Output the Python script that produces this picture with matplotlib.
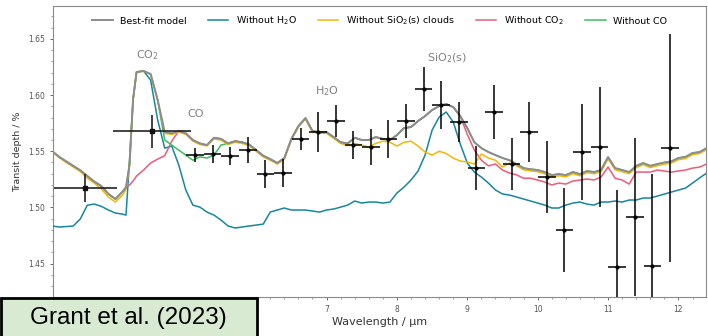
import matplotlib.pyplot as plt
from matplotlib.patches import Rectangle
from matplotlib.ticker import MultipleLocator, FuncFormatter

# model wavelength grid (um)
wl = [3.1, 3.2, 3.3, 3.4, 3.5, 3.6, 3.7, 3.8, 3.9, 4.0,
      4.1, 4.15, 4.2, 4.25, 4.3, 4.4, 4.5, 4.6, 4.7, 4.8,
      4.9, 5.0, 5.1, 5.2, 5.3, 5.4, 5.5, 5.6, 5.7, 5.8,
      5.9, 6.0, 6.1, 6.2, 6.3, 6.4, 6.5, 6.6, 6.7, 6.8,
      6.9, 7.0, 7.1, 7.2, 7.3, 7.4, 7.5, 7.6, 7.7, 7.8,
      7.9, 8.0, 8.1, 8.2, 8.3, 8.4, 8.5, 8.6, 8.7, 8.8,
      8.9, 9.0, 9.1, 9.2, 9.3, 9.4, 9.5, 9.6, 9.7, 9.8,
      9.9, 10.0, 10.1, 10.2, 10.3, 10.4, 10.5, 10.6, 10.7, 10.8,
      10.9, 11.0, 11.1, 11.2, 11.3, 11.4, 11.5, 11.6, 11.7, 11.8,
      11.9, 12.0, 12.1, 12.2, 12.3, 12.4]

best_fit = [1.550, 1.545, 1.541, 1.537, 1.533, 1.528, 1.523, 1.519, 1.512, 1.5075,
            1.514, 1.518, 1.538, 1.596, 1.6205, 1.6214, 1.6187, 1.5956, 1.567, 1.566,
            1.568, 1.566, 1.560, 1.557, 1.5555, 1.562, 1.561, 1.557, 1.559, 1.558,
            1.556, 1.551, 1.546, 1.543, 1.5395, 1.544, 1.561, 1.5724, 1.5795, 1.568,
            1.567, 1.567, 1.5626, 1.558, 1.557, 1.562, 1.560, 1.560, 1.5626, 1.561,
            1.560, 1.5644, 1.5706, 1.5715, 1.5769, 1.5813, 1.5867, 1.5902, 1.592, 1.5893,
            1.5813, 1.5706, 1.558, 1.5528, 1.5493, 1.5466, 1.544, 1.542, 1.5386, 1.535,
            1.534, 1.5333, 1.5315, 1.5288, 1.5297, 1.5288, 1.5315, 1.5297, 1.5324, 1.5315,
            1.5333, 1.5448, 1.535, 1.5333, 1.5315, 1.537, 1.5395, 1.537, 1.5386, 1.540,
            1.541, 1.544, 1.545, 1.5484, 1.5493, 1.5528]

no_h2o = [1.4835, 1.4826, 1.483, 1.4835, 1.4897, 1.502, 1.503, 1.501, 1.4977, 1.495,
          1.4941, 1.4932, 1.542, 1.596, 1.6205, 1.6214, 1.6133, 1.5778, 1.5528, 1.5546,
          1.5377, 1.5155, 1.5021, 1.5003, 1.4959, 1.4932, 1.4888, 1.4835, 1.4817, 1.4826,
          1.4835, 1.4843, 1.4852, 1.4959, 1.4977, 1.4995, 1.4977, 1.4977, 1.4977, 1.4968,
          1.4959, 1.4977, 1.4986, 1.5003, 1.5021, 1.5057, 1.5039, 1.5048, 1.5048, 1.5039,
          1.5048, 1.5128, 1.5181, 1.5244, 1.5324, 1.5466, 1.5689, 1.5804, 1.5849, 1.576,
          1.5564, 1.5395, 1.5315, 1.527, 1.5217, 1.5155, 1.512, 1.511, 1.5093, 1.5075,
          1.5057, 1.5039, 1.5021, 1.4995, 1.4995, 1.5021, 1.5039, 1.5048, 1.503, 1.5021,
          1.5048, 1.5048, 1.5057, 1.5048, 1.5066, 1.5066, 1.5084, 1.5084, 1.5101, 1.5119,
          1.5137, 1.5155, 1.5172, 1.5217, 1.5262, 1.5306]

no_sio2 = [1.5495, 1.5445, 1.540, 1.536, 1.532, 1.526, 1.5217, 1.5164, 1.5093, 1.5048,
           1.511, 1.516, 1.537, 1.5956, 1.6205, 1.6214, 1.6187, 1.5956, 1.566, 1.565,
           1.567, 1.565, 1.559, 1.556, 1.5547, 1.561, 1.560, 1.556, 1.558, 1.557,
           1.555, 1.550, 1.545, 1.542, 1.5387, 1.543, 1.560, 1.5716, 1.5787, 1.567,
           1.566, 1.566, 1.5615, 1.557, 1.555, 1.557, 1.5555, 1.5537, 1.557, 1.559,
           1.558, 1.5546, 1.558, 1.559, 1.5546, 1.5493, 1.5466, 1.550, 1.548, 1.5439,
           1.5413, 1.5404, 1.5386, 1.5475, 1.544, 1.542, 1.536, 1.5395, 1.5371, 1.5335,
           1.5325, 1.5318, 1.530, 1.5273, 1.5282, 1.5273, 1.530, 1.5282, 1.5309, 1.530,
           1.5318, 1.5433, 1.5335, 1.5318, 1.530, 1.5355, 1.538, 1.5355, 1.5371, 1.5385,
           1.5395, 1.5425, 1.5435, 1.547, 1.548, 1.5513]

no_co2 = [1.550, 1.545, 1.541, 1.537, 1.533, 1.528, 1.523, 1.519, 1.512, 1.5075,
          1.514, 1.518, 1.520, 1.5235, 1.528, 1.5333, 1.5395, 1.543, 1.546, 1.559,
          1.568, 1.566, 1.560, 1.557, 1.5555, 1.562, 1.561, 1.557, 1.559, 1.558,
          1.556, 1.551, 1.546, 1.543, 1.5395, 1.544, 1.561, 1.5724, 1.5795, 1.568,
          1.567, 1.567, 1.5626, 1.558, 1.557, 1.562, 1.560, 1.560, 1.5626, 1.561,
          1.560, 1.5644, 1.5706, 1.5715, 1.5769, 1.5813, 1.5867, 1.5902, 1.592, 1.5893,
          1.5813, 1.565, 1.551, 1.542, 1.537, 1.5386, 1.5333, 1.5306, 1.529, 1.526,
          1.526, 1.5244, 1.5226, 1.520, 1.5217, 1.5208, 1.5235, 1.5244, 1.5253, 1.5244,
          1.527, 1.536, 1.526, 1.5244, 1.5208, 1.5315, 1.5315, 1.5315, 1.5333, 1.5324,
          1.5315, 1.5324, 1.5333, 1.535, 1.5359, 1.5386]

no_co = [1.550, 1.545, 1.541, 1.537, 1.533, 1.528, 1.523, 1.519, 1.512, 1.5075,
         1.514, 1.518, 1.538, 1.596, 1.6205, 1.6214, 1.6187, 1.5956, 1.560, 1.5555,
         1.551, 1.5466, 1.542, 1.545, 1.544, 1.5466, 1.5555, 1.557, 1.559, 1.558,
         1.556, 1.551, 1.546, 1.543, 1.5395, 1.544, 1.561, 1.5724, 1.5795, 1.568,
         1.567, 1.567, 1.5626, 1.558, 1.557, 1.562, 1.560, 1.560, 1.5626, 1.561,
         1.560, 1.5644, 1.5706, 1.5715, 1.5769, 1.5813, 1.5867, 1.5902, 1.592, 1.5893,
         1.5813, 1.5706, 1.558, 1.5528, 1.5493, 1.5466, 1.544, 1.542, 1.5386, 1.535,
         1.534, 1.5333, 1.5315, 1.5288, 1.5297, 1.5288, 1.5315, 1.5297, 1.5324, 1.5315,
         1.5333, 1.5448, 1.535, 1.5333, 1.5315, 1.537, 1.5395, 1.537, 1.5386, 1.540,
         1.541, 1.544, 1.545, 1.5484, 1.5493, 1.5528]

# observed spectrum
nirspec_wl = [3.57, 4.52]
nirspec_xerr = [0.45, 0.56]
nirspec_depth = [1.5175, 1.568]
nirspec_err = [0.0125, 0.0147]

miri_wl = [5.13, 5.38, 5.63, 5.88, 6.13, 6.38, 6.63, 6.88, 7.13, 7.38,
           7.63, 7.88, 8.13, 8.38, 8.63, 8.88, 9.13, 9.38, 9.63, 9.88,
           10.13, 10.38, 10.63, 10.88, 11.13, 11.38, 11.63, 11.88]
miri_depth = [1.5466, 1.5475, 1.5457, 1.5511, 1.5297, 1.5303, 1.5609, 1.5671, 1.5769, 1.5555,
              1.5537, 1.5609, 1.5771, 1.6053, 1.5915, 1.576, 1.5355, 1.5849, 1.5386, 1.5675,
              1.527, 1.4799, 1.5496, 1.554, 1.4472, 1.4912, 1.4481, 1.5526]
miri_err = [0.0062, 0.008, 0.008, 0.0116, 0.0125, 0.0125, 0.0098, 0.0178, 0.0142, 0.0125,
            0.016, 0.0169, 0.0151, 0.0196, 0.0214, 0.0178, 0.0196, 0.024, 0.0231, 0.0267,
            0.032, 0.0374, 0.0427, 0.0534, 0.0685, 0.0703, 0.0819, 0.1014]
miri_xerr = 0.125

labels = ["CO$_2$", "CO", "H$_2$O", "SiO$_2$(s)"]
label_x = [4.45, 5.14, 7.0, 8.71]
label_y = [1.6356, 1.583, 1.6036, 1.633]

fig = plt.figure(figsize=(7.08, 3.36), dpi=100)
ax = fig.add_axes([0.075, 0.116, 0.922, 0.866])

ax.plot(wl, best_fit, color="#8c8c8c", lw=1.4, label="Best-fit model", zorder=6)
ax.plot(wl, no_h2o, color="#17869e", lw=1.1, label="Without H$_2$O", zorder=3)
ax.plot(wl, no_sio2, color="#f2b705", lw=1.1, label="Without SiO$_2$(s) clouds", zorder=5)
ax.plot(wl, no_co2, color="#ec5b78", lw=1.1, label="Without CO$_2$", zorder=4)
ax.plot(wl, no_co, color="#3dbd5d", lw=1.1, label="Without CO", zorder=4)

ax.errorbar(nirspec_wl, nirspec_depth, xerr=nirspec_xerr, yerr=nirspec_err,
            fmt="s", ms=3.5, color="#111111", ecolor="#222222", elinewidth=1.2,
            capsize=0, zorder=8)
ax.errorbar(miri_wl, miri_depth, xerr=miri_xerr, yerr=miri_err,
            fmt=".", ms=4, color="black", elinewidth=1.1, capsize=0, zorder=8)

for t, x, y in zip(labels, label_x, label_y):
    ax.text(x, y, t, color="#808080", fontsize=8, ha="center", va="center")

ax.set_xlim(3.114, 12.39)
ax.set_ylim(1.4203, 1.6792)
ax.yaxis.set_major_locator(MultipleLocator(0.05))
ax.yaxis.set_minor_locator(MultipleLocator(0.01))
ax.xaxis.set_major_locator(MultipleLocator(1))
ax.xaxis.set_minor_locator(MultipleLocator(0.2))
# labels below 6 um sit under the citation box
ax.xaxis.set_major_formatter(FuncFormatter(lambda v, p: "" if v < 5.5 else f"{v:.0f}"))
ax.tick_params(labelsize=5.5, colors="#555555", length=2.5, width=0.6)
ax.tick_params(which="minor", length=1.5, width=0.5, colors="#777777")
for s in ax.spines.values():
    s.set_color("#8a8a8a")
    s.set_linewidth(0.8)

ax.set_xlabel("Wavelength / µm", fontsize=8, color="#333333", labelpad=2)
ax.set_ylabel("Transit depth / %", fontsize=6.8, color="#333333", labelpad=4)

ax.legend(loc="upper center", ncol=5, frameon=False, fontsize=6.8,
          handlelength=2.2, columnspacing=2.2, bbox_to_anchor=(0.5, 1.0))

# citation box in the lower-left corner
fig.patches.append(Rectangle((0.001, -0.01), 256 / 708, 38 / 336 + 0.01,
                             transform=fig.transFigure, facecolor="#d9ead3",
                             edgecolor="black", linewidth=2, zorder=5))
fig.text(128 / 708, 1 - 318 / 336, "Grant et al. (2023)", fontsize=17.5,
         family="Liberation Sans", ha="center", va="center", zorder=6)

fig.savefig("out.png", dpi=100)
